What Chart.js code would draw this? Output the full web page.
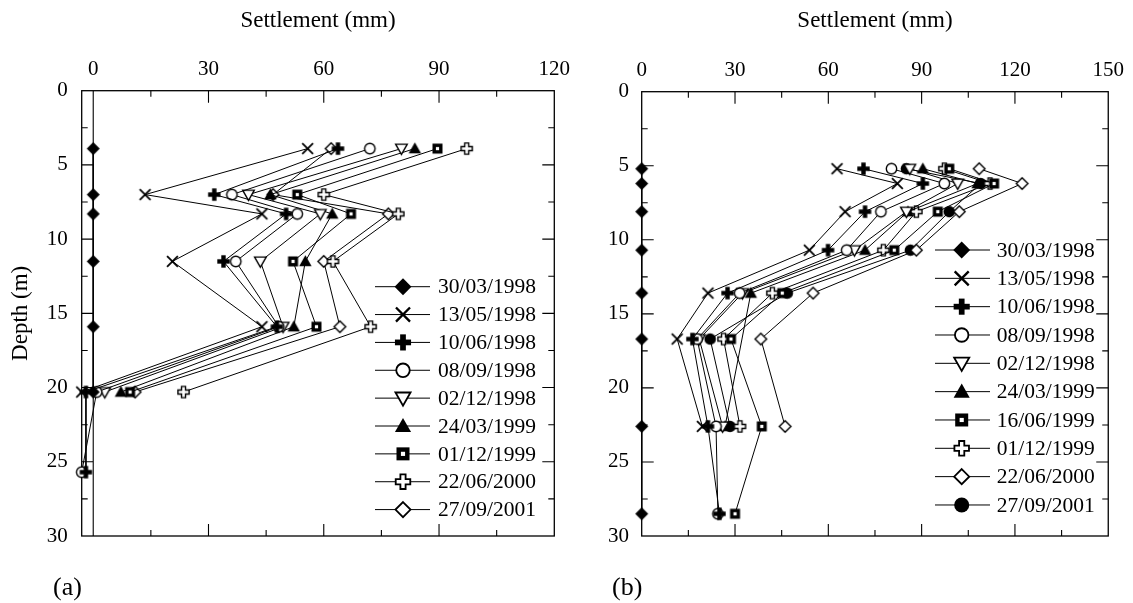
<!DOCTYPE html>
<html><head><meta charset="utf-8">
<script src="https://cdn.jsdelivr.net/npm/chart.js@4/dist/chart.umd.min.js"></script>
<style>
html,body{margin:0;padding:0;background:#fff;}
#wrap{position:relative;width:1133px;height:603px;overflow:hidden;}
canvas{position:absolute;left:0;top:0;}
</style></head><body>
<div id="wrap"><canvas id="ca" width="1133" height="603"></canvas><canvas id="cb" width="1133" height="603"></canvas></div>
<script>
// ---------- Panel (a) data ----------
const depthA = [3.9, 7.0, 8.3, 11.5, 15.9, 20.3, 25.7];
const labelsA = ['30/03/1998','13/05/1998','10/06/1998','08/09/1998','02/12/1998','24/03/1999','01/12/1999','22/06/2000','27/09/2001'];
const a_300398 = [0, 0, 0, 0, 0, 0, null];
const a_130598 = [55.8, 13.5, 43.9, 20.6, 43.9, -3.0, null];
const a_100698 = [63.7, 31.5, 50.2, 33.9, 47.8, -1.9, -1.9];
const a_080998 = [72.0, 36.1, 53.1, 37.1, 48.3, 0.9, -3.0];
const a_021298 = [80.2, 40.4, 59.1, 43.5, 49.4, 3.0, null];
const a_240399 = [83.7, 46.1, 62.2, 55.2, 52.2, 7.2, null];
const a_011299 = [89.6, 53.1, 67.1, 52.0, 58.1, 9.6, null];
const a_220600 = [97.2, 60.0, 79.4, 62.4, 72.2, 23.5, null];
const a_270901 = [61.9, 46.8, 76.8, 60.0, 64.2, 10.9, null];
const xTicksA = [0, 30, 60, 90, 120];
const yTicks = [0, 5, 10, 15, 20, 25, 30];

// ---------- Panel (b) data ----------
const depthB = [5.2, 6.2, 8.1, 10.7, 13.6, 16.7, 22.6, 28.5];
const labelsB = ['30/03/1998','13/05/1998','10/06/1998','08/09/1998','02/12/1998','24/03/1999','16/06/1999','01/12/1999','22/06/2000','27/09/2001'];
const b_300398 = [0, 0, 0, 0, 0, 0, 0, 0];
const b_130598 = [62.8, 82.2, 65.4, 53.9, 21.3, 11.4, 19.5, null];
const b_100698 = [71.3, 90.4, 71.8, 59.9, 27.6, 16.3, 21.3, 25.0];
const b_080998 = [80.3, 97.3, 76.9, 65.9, 31.5, 17.8, 23.9, 24.5];
const b_021298 = [86.2, 101.6, 85.1, 68.4, 32.4, 18.5, 26.0, null];
const b_240399 = [90.4, 108.0, 85.6, 71.8, 35.1, null, 26.8, null];
const b_160699 = [98.9, 113.3, 95.2, 81.2, 45.2, 28.7, 38.6, 30.0];
const b_011299 = [97.3, 112.0, 88.3, 77.7, 42.0, 26.3, 31.6, null];
const b_220600 = [108.5, 122.3, 102.1, 88.3, 55.1, 38.3, 46.1, null];
const b_270901 = [85.1, 109.0, 98.9, 86.4, 46.8, 22.0, 28.4, null];
const xTicksB = [0, 30, 60, 90, 120, 150];

const markersA = ['diamondF','x','plusF','circleO','triDownO','triUpF','squareF','plusO','diamondO'];
const markersB = ['diamondF','x','plusF','circleO','triDownO','triUpF','squareF','plusO','diamondO','circleF'];

// ---------- marker drawing ----------
function drawMarker(g, type, s) {
  g.strokeStyle = '#000'; g.fillStyle = '#000'; g.lineWidth = 1.4 * s; g.lineJoin = 'miter';
  let r;
  switch (type) {
    case 'diamondF':
      r = 6.5 * s; g.beginPath(); g.moveTo(0,-r); g.lineTo(r,0); g.lineTo(0,r); g.lineTo(-r,0); g.closePath(); g.fill(); break;
    case 'diamondO':
      r = 5.8 * s; g.beginPath(); g.moveTo(0,-r); g.lineTo(r,0); g.lineTo(0,r); g.lineTo(-r,0); g.closePath();
      g.fillStyle='#fff'; g.fill(); g.stroke(); break;
    case 'x':
      r = 5.4 * s; g.lineWidth = 1.8 * s; g.beginPath(); g.moveTo(-r,-r); g.lineTo(r,r); g.moveTo(r,-r); g.lineTo(-r,r); g.stroke(); break;
    case 'plusF': {
      const a = 6.2 * s, w = 2.2 * s;
      g.fillRect(-a,-w,2*a,2*w); g.fillRect(-w,-a,2*w,2*a); break; }
    case 'plusO': {
      const a = 5.6 * s, w = 2.0 * s;
      g.beginPath();
      g.moveTo(-w,-a); g.lineTo(w,-a); g.lineTo(w,-w); g.lineTo(a,-w); g.lineTo(a,w); g.lineTo(w,w);
      g.lineTo(w,a); g.lineTo(-w,a); g.lineTo(-w,w); g.lineTo(-a,w); g.lineTo(-a,-w); g.lineTo(-w,-w); g.closePath();
      g.fillStyle='#fff'; g.fill(); g.stroke(); break; }
    case 'circleO':
      r = 5.2 * s; g.beginPath(); g.arc(0,0,r,0,Math.PI*2); g.fillStyle='#fff'; g.fill(); g.stroke(); break;
    case 'circleF':
      r = 5.8 * s; g.beginPath(); g.arc(0,0,r,0,Math.PI*2); g.fill(); break;
    case 'triDownO':
      r = 5.8 * s; g.beginPath(); g.moveTo(-r,-r*0.75); g.lineTo(r,-r*0.75); g.lineTo(0,r); g.closePath();
      g.fillStyle='#fff'; g.fill(); g.stroke(); break;
    case 'triUpF':
      r = 6.2 * s; g.beginPath(); g.moveTo(-r,r*0.75); g.lineTo(r,r*0.75); g.lineTo(0,-r); g.closePath(); g.fill(); break;
    case 'squareF': {
      const h = 5 * s, i = 1.6 * s;
      g.fillRect(-h,-h,2*h,2*h); g.fillStyle='#fff'; g.fillRect(-i,-i,2*i,2*i); break; }
  }
}
function makeMarker(type, s) {
  const size = Math.ceil(18 * s) | 1;
  const c = document.createElement('canvas'); c.width = size; c.height = size;
  const g = c.getContext('2d'); g.translate(size/2, size/2); drawMarker(g, type, s);
  return c;
}

function buildSets(depths, seriesList, labels, markers) {
  return seriesList.map((vals, k) => ({
    label: labels[k],
    data: depths.map((d, i) => ({x: vals[i], y: d})).filter(p => p.x !== null && p.x !== undefined),
    showLine: true, borderColor: '#000', borderWidth: 1, tension: 0, fill: false,
    pointStyle: makeMarker(markers[k], 1), pointRadius: 6, pointHoverRadius: 6,
    markerType: markers[k], clip: false
  }));
}

const FONT = 'Liberation Serif, Times New Roman, serif';

// ---------- frame / ticks / legend plugin ----------
const framePlugin = {
  id: 'frame',
  beforeDatasetsDraw(chart, args, opts) {
    const {ctx, chartArea: ca} = chart;
    const xs = chart.scales.x, ys = chart.scales.y;
    ctx.save();
    ctx.strokeStyle = '#000'; ctx.lineWidth = 1.3;
    ctx.strokeRect(ca.left, ca.top, ca.right - ca.left, ca.bottom - ca.top);
    ctx.lineWidth = 1.1;
    ctx.beginPath();
    for (let v = opts.xStart; v <= xs.max + 1e-6; v += opts.xMinor) {
      const px = xs.getPixelForValue(v);
      const major = Math.abs(v / opts.xMajor - Math.round(v / opts.xMajor)) < 1e-6;
      const L = major ? 12 : 6;
      if (px <= ca.left + 0.5 || px >= ca.right - 0.5) continue;
      ctx.moveTo(px, ca.top); ctx.lineTo(px, ca.top + L);
      ctx.moveTo(px, ca.bottom); ctx.lineTo(px, ca.bottom - L);
    }
    for (let v = ys.min; v <= ys.max + 1e-6; v += opts.yMinor) {
      const py = ys.getPixelForValue(v);
      const major = Math.abs(v / opts.yMajor - Math.round(v / opts.yMajor)) < 1e-6;
      const L = major ? 12 : 6;
      if (py <= ca.top + 0.5 || py >= ca.bottom - 0.5) continue;
      ctx.moveTo(ca.left, py); ctx.lineTo(ca.left + L, py);
      ctx.moveTo(ca.right, py); ctx.lineTo(ca.right - L, py);
    }
    if (opts.zeroLine) {
      const px = xs.getPixelForValue(0);
      ctx.moveTo(px, ca.top); ctx.lineTo(px, ca.bottom);
    }
    ctx.stroke();
    ctx.restore();
  },
  afterDraw(chart, args, opts) {
    const ctx = chart.ctx; const L = opts.legend;
    ctx.save();
    ctx.font = L.fontSize + 'px ' + FONT; ctx.fillStyle = '#000'; ctx.textBaseline = 'middle'; ctx.textAlign = 'left';
    chart.data.datasets.forEach((ds, i) => {
      const y = L.y0 + i * L.dy;
      ctx.strokeStyle = '#000'; ctx.lineWidth = 1;
      ctx.beginPath(); ctx.moveTo(L.x0, y); ctx.lineTo(L.x1, y); ctx.stroke();
      ctx.save(); ctx.translate(L.xm, y); drawMarker(ctx, ds.markerType, L.ms); ctx.restore();
      ctx.fillStyle = '#000';
      ctx.fillText(ds.label, L.xt, y + 1);
    });
    const P = opts.panel;
    ctx.font = P.fontSize + 'px ' + FONT; ctx.textBaseline = 'middle';
    ctx.fillText(P.text, P.x, P.y);
    ctx.restore();
  }
};

function makeConfig(sets, xMin, xMax, xTicks, area, yTitle, frameOpts) {
  return {
    type: 'scatter',
    data: {datasets: sets},
    plugins: [framePlugin],
    options: {
      responsive: false, animation: false, devicePixelRatio: 1,
      events: [],
      layout: {padding: {left: 0, top: 0, right: 1133 - area.right, bottom: 603 - area.bottom}},
      plugins: {legend: {display: false}, tooltip: {enabled: false}, title: {display: false}, frame: frameOpts},
      scales: {
        x: {
          type: 'linear', position: 'top', min: xMin, max: xMax,
          afterBuildTicks: s => { s.ticks = xTicks.map(v => ({value: v})); },
          ticks: {color: '#000', font: {family: FONT, size: 21}, padding: 9, maxRotation: 0},
          grid: {display: false, drawTicks: false}, border: {display: false},
          title: {display: true, text: 'Settlement (mm)', color: '#000', font: {family: FONT, size: 23}, padding: {top: 7, bottom: 0}},
          afterFit: s => { s.height = area.top; }
        },
        y: {
          type: 'linear', position: 'left', reverse: true, min: 0, max: 30,
          afterBuildTicks: s => { s.ticks = yTicks.map(v => ({value: v})); },
          ticks: {color: '#000', font: {family: FONT, size: 21}, padding: area.yPad},
          grid: {display: false, drawTicks: false}, border: {display: false},
          title: {display: !!yTitle, text: yTitle || '', color: '#000', font: {family: FONT, size: 23}, padding: {top: 7, bottom: 0}},
          afterFit: s => { s.width = area.left; }
        }
      }
    }
  };
}

const setsA = buildSets(depthA, [a_300398,a_130598,a_100698,a_080998,a_021298,a_240399,a_011299,a_220600,a_270901], labelsA, markersA);
const setsB = buildSets(depthB, [b_300398,b_130598,b_100698,b_080998,b_021298,b_240399,b_160699,b_011299,b_220600,b_270901], labelsB, markersB);

new Chart(document.getElementById('ca'), makeConfig(setsA, -3, 120, xTicksA,
  {left: 81.7, top: 90.7, right: 554.3, bottom: 536, yPad: 14}, 'Depth (m)',
  {xStart: 0, xMinor: 15, xMajor: 30, yMinor: 2.5, yMajor: 5, zeroLine: true,
   legend: {x0: 375, x1: 430, xm: 403, xt: 438, y0: 286.7, dy: 27.86, fontSize: 21.5, ms: 1.3},
   panel: {text: '(a)', x: 53, y: 588, fontSize: 26}}));

new Chart(document.getElementById('cb'), makeConfig(setsB, 0, 150, xTicksB,
  {left: 641.7, top: 91.7, right: 1114.3, bottom: 536, yPad: 12.7}, null,
  {xStart: 0, xMinor: 15, xMajor: 30, yMinor: 2.5, yMajor: 5, zeroLine: false,
   legend: {x0: 935, x1: 990, xm: 961.7, xt: 996.7, y0: 250, dy: 28.33, fontSize: 21.5, ms: 1.3},
   panel: {text: '(b)', x: 612, y: 588, fontSize: 26}}));
</script>
</body></html>
